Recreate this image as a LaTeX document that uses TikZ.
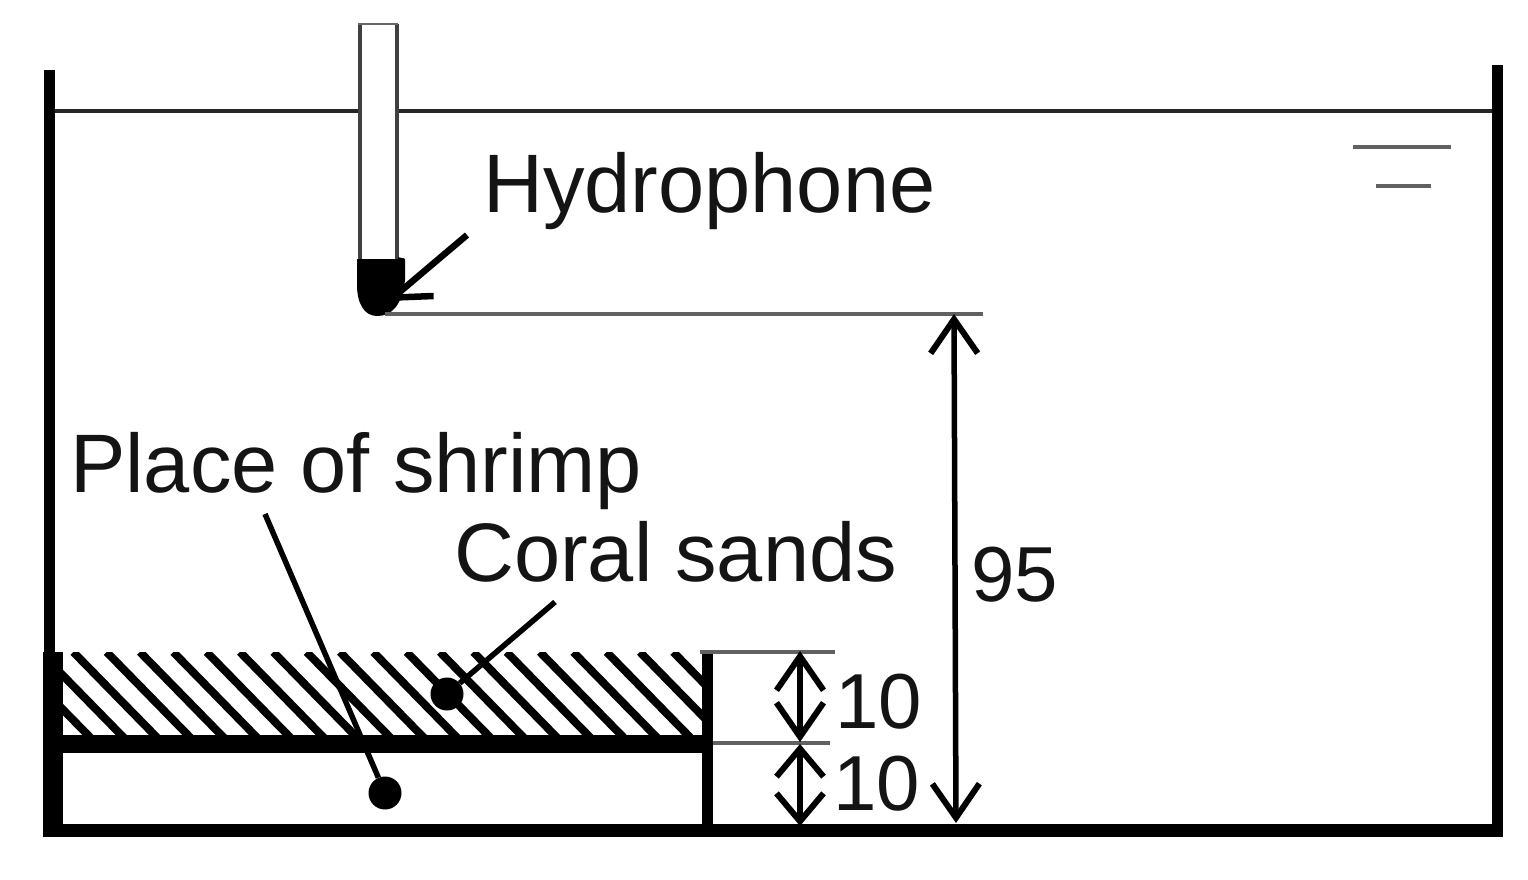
\documentclass[tikz,border=0pt]{standalone}
\usepackage{fontspec}
\setmainfont{Liberation Sans}
\usetikzlibrary{arrows.meta}
\definecolor{inkc}{gray}{0.08}
\definecolor{thinc}{gray}{0.38}
\tikzset{
  wall/.style={draw=black,line width=11pt,line join=round},
  lbl/.style={anchor=base west,inner sep=0pt,text=inkc,font=\fontsize{83}{83}\selectfont},
  num/.style={anchor=base west,inner sep=0pt,text=inkc,font=\fontsize{78}{78}\selectfont},
  leader/.style={draw=black,line width=5.5pt},
  dotn/.style={circle,fill=black,draw=none,minimum size=33pt,inner sep=0pt},
  thin line/.style={draw=thinc,line width=4.5pt},
  dim/.style={draw=black,line width=5.5pt,{Straight Barb[length=34pt,width=47pt,line width=6pt]}-{Straight Barb[length=34pt,width=47pt,line width=6pt]}},
  dimshort/.style={draw=black,line width=5.5pt,{Straight Barb[length=28pt,width=47pt,line width=6pt]}-{Straight Barb[length=28pt,width=47pt,line width=6pt]}},
  hatchl/.style={draw=black,line width=8pt}
}
\begin{document}
\begin{tikzpicture}[x=1pt,y=-1pt]
\useasboundingbox (0,0) rectangle (1528,879);
% hatching
\begin{scope}
\clip (55,652) rectangle (703,737);
\foreach \i in {-1,...,19} {
  \draw[hatchl] ({40+33.33*\i},652) -- ({40+33.33*\i+90},744);
}
\end{scope}
% water line and surface marks
\draw[draw=black!85,line width=4pt] (52,111) -- (1493,111);
\draw[thin line] (1353,147) -- (1451,147);
\draw[thin line] (1376,186) -- (1431,186);
% tank
\draw[wall] (49,70) -- (49,831) -- (1497,831) -- (1497,65);
\fill[black] (43,652) rectangle (63,836);
\fill[black] (43,824) rectangle (1503,837);
\fill[black] (48,735) rectangle (711,753);
\fill[black] (702,652) rectangle (713,828);
% hydrophone
\fill[white] (358,24) rectangle (397,262);
\draw[draw=black!75,line width=4.5pt] (360,24) -- (360,262);
\draw[draw=black!75,line width=4.5pt] (397,24) -- (397,262);
\draw[draw=black!60,line width=2pt] (358,24) -- (398,24);
\fill[black] (357,259) -- (405,259) -- (405,280) .. controls (402,305) and (392,316) .. (377,316) .. controls (364,316) and (357,303) .. (357,285) -- cycle;
% dimension reference lines
\coordinate (hydTip) at (385,314);
\coordinate (hydEnd) at (983,314);
\draw[thin line] (hydTip) -- (hydEnd);
\coordinate (topL) at (700,652);
\coordinate (topR) at (835,652);
\coordinate (midL) at (713,743);
\coordinate (midR) at (830,743);
\draw[thin line] (topL) -- (topR);
\draw[thin line] (midL) -- (midR);
% texts
\node[lbl] (hydro) at (483,212) {Hydrophone};
\node[lbl] (place) at (70,492) {Place of shrimp};
\node[lbl] (coral) at (454,581) {Coral sands};
\node[num] (n95) at (971,601) {95};
\node[num] (n10a) at (835,728) {10};
\node[num] (n10b) at (833,810) {10};
% connectors
\coordinate (hydFrom) at (467,235);
\coordinate (hydTo) at (389,301);
\draw[leader,line width=6.5pt,-{Straight Barb[length=32pt,width=50pt,line width=6.5pt]}] (hydFrom) -- (hydTo);
\coordinate (d95a) at (954,314);
\coordinate (d95b) at (956,823);
\draw[dim] (d95a) -- (d95b);
\coordinate (d1a) at (800,651);
\coordinate (d1b) at (800,742);
\draw[dim] (d1a) -- (d1b);
\coordinate (d2a) at (800,744);
\coordinate (d2b) at (800,826);
\draw[dimshort] (d2a) -- (d2b);
\node[dotn] (shrimpDot) at (385,793) {};
\node[dotn] (coralDot) at (447,694) {};
\coordinate (placeFrom) at (265,514);
\coordinate (coralFrom) at (555,602);
\draw[leader] (placeFrom) -- (shrimpDot);
\draw[leader] (coralFrom) -- (coralDot);
\end{tikzpicture}
\end{document}
